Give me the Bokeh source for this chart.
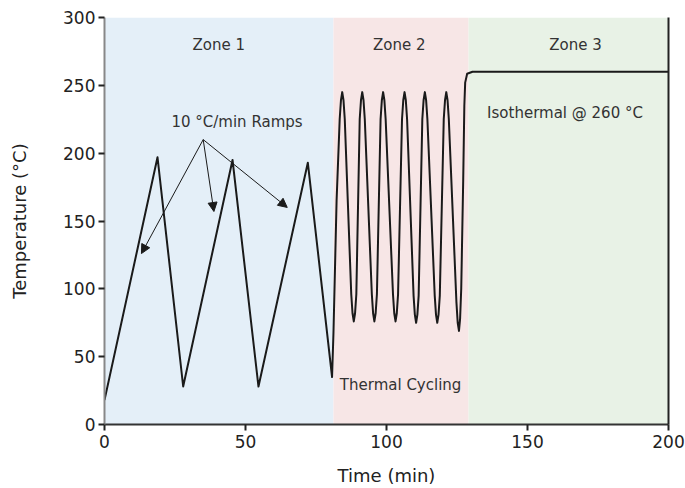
from bokeh.plotting import figure
from bokeh.models import Range1d, LinearAxis, Arrow, NormalHead, FixedTicker, Label
from bokeh.embed import file_html
from bokeh.resources import INLINE

# ---- data ----
zone_names = ["Zone 1", "Zone 2", "Zone 3"]
zone_start = [0, 81.2, 129.1]
zone_end = [81.2, 129.1, 200]
zone_colors = ["#e4eff8", "#f7e6e6", "#e8f2e6"]
zone_label_x = [40.5, 104.5, 167]
zone_label_y = [280, 280, 280]

time_min = [0, 18.8, 27.9, 45.4, 54.6, 72.1, 80.7,
            81.2, 82.3, 83.4, 83.85, 84.3, 84.75, 85.2,
            87.5, 87.95, 88.4, 88.85, 89.3,
            90.5, 90.95, 91.4, 91.85, 92.3,
            94.8, 95.25, 95.7, 96.15, 96.6,
            97.9, 98.35, 98.8, 99.25, 99.7,
            102.3, 102.75, 103.2, 103.65, 104.1,
            105.5, 105.95, 106.4, 106.85, 107.3,
            109.6, 110.05, 110.5, 110.95, 111.4,
            112.7, 113.15, 113.6, 114.05, 114.5,
            117.1, 117.55, 118.0, 118.45, 118.9,
            120.3, 120.75, 121.2, 121.65, 122.1,
            124.8, 125.25, 125.7, 126.1, 126.5, 127.2, 127.6, 127.9, 128.6, 130.5, 200]
temp_c = [18, 197, 28, 195, 28, 193, 35,
          68, 165, 225, 239, 245, 239, 225,
          96, 82, 76, 82, 96,
          225, 239, 245, 239, 225,
          96, 82, 76, 82, 96,
          225, 239, 245, 239, 225,
          96, 82, 76, 82, 96,
          225, 239, 245, 239, 225,
          95, 81, 75, 81, 95,
          225, 239, 245, 239, 225,
          95, 81, 75, 81, 95,
          225, 239, 245, 239, 225,
          90, 75, 69, 78, 100, 180, 235, 252, 258.5, 260, 260]

x_ticks = [0, 50, 100, 150, 200]
y_ticks = [0, 50, 100, 150, 200, 250, 300]

ramp_text_pos = (47, 223)
arrow_origin = (35, 210)
arrow_tips_x = [13.1, 38.8, 64.8]
arrow_tips_y = [126, 157, 160]

FONT = "DejaVu Sans"

p = figure(width=685, height=488, output_backend="svg", toolbar_location=None,
           x_range=Range1d(0, 200), y_range=Range1d(0, 300),
           min_border_left=104, min_border_right=17, min_border_top=17, min_border_bottom=40)
p.outline_line_color = None
p.xgrid.visible = False
p.ygrid.visible = False
p.background_fill_color = "white"
p.border_fill_color = "white"

p.quad(left=zone_start, right=zone_end, bottom=0, top=300, fill_color=zone_colors, line_color=None)

p.line(time_min, temp_c, line_color="#1a1a1a", line_width=2, line_join="round")

for name, x, y in zip(zone_names, zone_label_x, zone_label_y):
    p.add_layout(Label(x=x, y=y, text=name, text_align="center", text_baseline="middle",
                       text_font=FONT, text_font_size="15px", text_color="#333333"))

p.add_layout(Label(x=ramp_text_pos[0], y=ramp_text_pos[1], text="10 °C/min Ramps", text_align="center",
                   text_baseline="middle", text_font=FONT, text_font_size="15px", text_color="#333333"))
p.add_layout(Label(x=163.3, y=229.6, text="Isothermal @ 260 °C", text_align="center",
                   text_baseline="middle", text_font=FONT, text_font_size="15px", text_color="#333333"))
p.add_layout(Label(x=105, y=29.4, text="Thermal Cycling", text_align="center",
                   text_baseline="middle", text_font=FONT, text_font_size="15px", text_color="#333333"))

for tx, ty in zip(arrow_tips_x, arrow_tips_y):
    p.add_layout(Arrow(x_start=arrow_origin[0], y_start=arrow_origin[1], x_end=tx, y_end=ty,
                       line_color="#1a1a1a", line_width=1,
                       end=NormalHead(size=9, fill_color="#1a1a1a", line_color="#1a1a1a", line_width=1)))

for ax in (p.xaxis[0], p.yaxis[0]):
    ax.major_label_text_font = FONT
    ax.major_label_text_font_size = "17px"
    ax.major_label_text_color = "#222222"
    ax.axis_label_text_font = FONT
    ax.axis_label_text_font_size = "18px"
    ax.axis_label_text_font_style = "normal"
    ax.axis_label_text_color = "#222222"
    ax.minor_tick_line_color = None
    ax.major_tick_in = 0
    ax.major_tick_out = 6
    ax.major_tick_line_width = 2
    ax.major_tick_line_color = "#222222"

p.xaxis.ticker = FixedTicker(ticks=x_ticks)
p.yaxis.ticker = FixedTicker(ticks=y_ticks)
p.xaxis.axis_label = "Time (min)"
p.yaxis.axis_label = "Temperature (°C)"
p.xaxis.axis_line_color = "#333333"
p.xaxis.axis_line_width = 2
p.yaxis.axis_line_color = "#888888"
p.yaxis.axis_line_width = 2
p.xaxis.major_label_standoff = 4
p.yaxis.major_label_standoff = 3
p.xaxis.axis_label_standoff = 14
p.yaxis.axis_label_standoff = 30

right = LinearAxis(major_tick_line_color=None, minor_tick_line_color=None,
                   major_label_text_font_size="0px", axis_line_color="#222222", axis_line_width=2,
                   ticker=FixedTicker(ticks=[]))
p.add_layout(right, "right")

open("out.html", "w").write(file_html(p, INLINE))
